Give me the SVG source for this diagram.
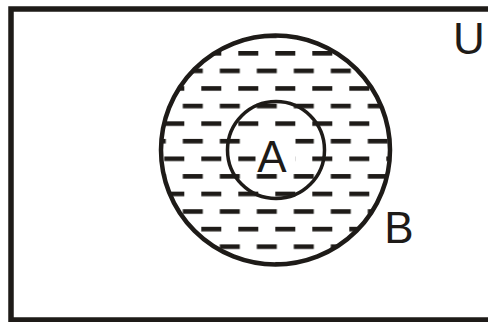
<svg xmlns="http://www.w3.org/2000/svg" width="488" height="322" viewBox="0 0 488 322">
<style>
.ln{fill:none;stroke:#1e1b18}
.lbl{font-family:"Liberation Sans",Arial,sans-serif;font-size:44px;fill:#1e1b18;text-anchor:middle}
</style>
<defs>
<pattern id="dash" patternUnits="userSpaceOnUse" x="238.3" y="51" width="37" height="35.16">
<rect x="0" y="0" width="20" height="4.6" fill="#1e1b18"/>
<rect x="18.5" y="17.58" width="18.5" height="4.6" fill="#1e1b18"/>
<rect x="0" y="17.58" width="1.5" height="4.6" fill="#1e1b18"/>
</pattern>
<clipPath id="outerClip"><circle cx="275.5" cy="150" r="114.5"/></clipPath>
</defs>
<rect width="488" height="322" fill="#fff"/>
<g id="U">
<rect class="ln" x="11" y="9" width="490" height="311" stroke-width="5.5"/>
<text class="lbl" x="469" y="54">U</text>
</g>
<g id="B">
<rect x="150" y="30" width="250" height="250" fill="url(#dash)" clip-path="url(#outerClip)"/>
<circle class="ln" cx="275.5" cy="150" r="114.5" stroke-width="4.5"/>
<text class="lbl" x="399" y="243">B</text>
</g>
<g id="A">
<rect x="255.5" y="131.5" width="40" height="36" fill="#fff"/>
<circle class="ln" cx="276" cy="150" r="48.5" stroke-width="3.5"/>
<text class="lbl" x="272" y="172">A</text>
</g>
</svg>
